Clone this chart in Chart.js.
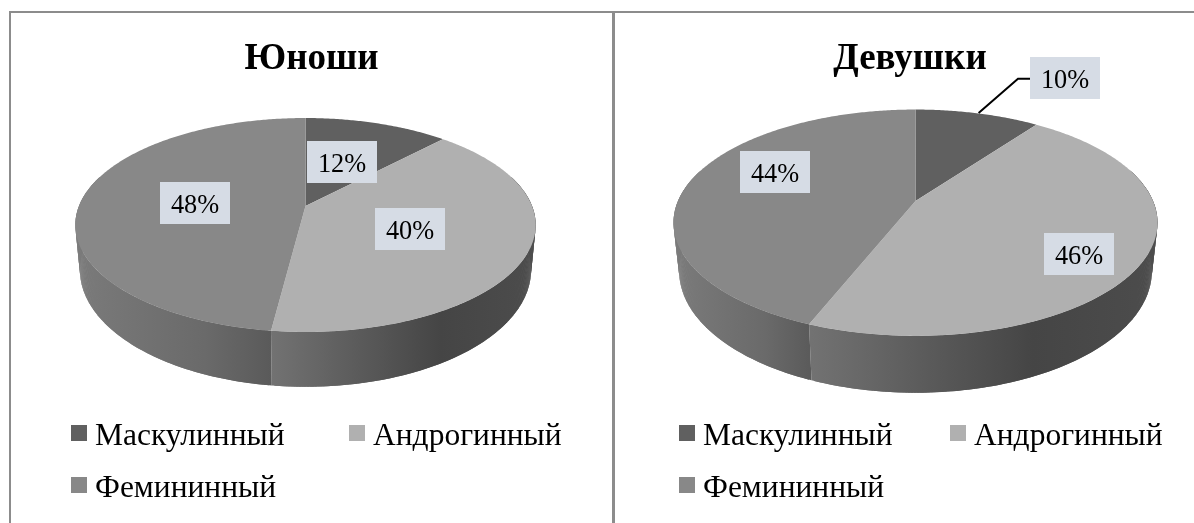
<!DOCTYPE html>
<html lang="ru">
<head>
<meta charset="utf-8">
<title>Юноши и девушки</title>
<script src="https://cdn.jsdelivr.net/npm/chart.js@4"></script>
<style>
  html, body { margin: 0; padding: 0; background: #fff; }
  body { position: relative; width: 1194px; height: 523px; overflow: hidden; font-family: "Liberation Serif", serif; }
  canvas { position: absolute; top: 0; }
  #boysChart { left: 0; }
  #girlsChart { left: 626px; }
  .rule { position: absolute; background: #8c8c8c; }
  #ruleTop { left: 9px; top: 11px; width: 1185px; height: 2px; }
  #ruleLeft { left: 9px; top: 11px; width: 2px; height: 512px; }
  #ruleMid { left: 612px; top: 11px; width: 3px; height: 512px; }
  .legend-item { position: absolute; font-size: 31.5px; line-height: 36px; color: #000; white-space: nowrap; }
  .legend-swatch { position: absolute; width: 16px; height: 16px; }
</style>
</head>
<body>
<div class="rule" id="ruleTop"></div>
<div class="rule" id="ruleLeft"></div>
<div class="rule" id="ruleMid"></div>
<canvas id="boysChart" width="623" height="523"></canvas>
<canvas id="girlsChart" width="568" height="523"></canvas>
<div id="legends"></div>
<script>
const categories = ["Маскулинный", "Андрогинный", "Фемининный"];
const boysValues = [12, 40, 48];
const girlsValues = [10, 46, 44];

const sliceColors = ["#606060", "#b0b0b0", "#888888"];
const sideColors = [
  ["#5c5c5c", "#4a4a4a", "#444444"],
  ["#727272", "#454545", "#4c4c4c"],
  ["#7a7a7a", "#6a6a6a", "#5a5a5a"]
];
const LABEL_FONT = '28px "Liberation Serif"';

// perspective of the pie top and bottom rims, calibrated on the reference (canvas px)
const boysPie = { cx: 305.5, cy: 206, rx: 226.5, ry: 103.6, k: 0.1776, lowCy: 249, lowRx: 222, lowRy: 113.3 };
const girlsPie = { cx: 289.5, cy: 201, rx: 237.5, ry: 109, k: 0.192, lowCy: 247.3, lowRx: 232, lowRy: 117.5 };

const boysLabelPos = [[342, 162], [410, 229], [195, 203]];
const girlsLabelPos = [[439, 78], [453, 254], [149, 172]];
const girlsLeader = [[404, 78.7], [392, 78.7], [352.6, 113]];

function project(pie, angle, lower) {
  const u = Math.cos(angle);
  const v = Math.sin(angle);
  const w = 1 - pie.k * v;
  return {
    x: pie.cx + (lower ? pie.lowRx : pie.rx) * u / w,
    y: (lower ? pie.lowCy : pie.cy) + (lower ? pie.lowRy : pie.ry) * v / w
  };
}

function arcPoints(pie, start, end, lower) {
  const pts = [];
  const steps = Math.max(2, Math.ceil((end - start) / 0.01));
  for (let i = 0; i <= steps; i++) {
    pts.push(project(pie, start + (end - start) * i / steps, lower));
  }
  return pts;
}

function drawSide(ctx, pie, el, index) {
  // only the part of the slice that faces the viewer
  const from = Math.max(el.startAngle, -0.3);
  const to = Math.min(el.endAngle, Math.PI + 0.3);
  if (to <= from) return;

  const upper = arcPoints(pie, from, to, false);
  const lower = arcPoints(pie, from, to, true);
  const xs = lower.map(p => p.x);
  const grad = ctx.createLinearGradient(Math.min(...xs), 0, Math.max(...xs), 0);
  grad.addColorStop(0, sideColors[index][0]);
  grad.addColorStop(0.65, sideColors[index][1]);
  grad.addColorStop(1, sideColors[index][2]);
  ctx.fillStyle = grad;

  // overlapping quads, so the straight silhouette at the rim widths is filled too
  for (let i = 0; i + 2 < upper.length; i++) {
    ctx.beginPath();
    ctx.moveTo(upper[i].x, upper[i].y);
    ctx.lineTo(upper[i + 2].x, upper[i + 2].y);
    ctx.lineTo(lower[i + 2].x, lower[i + 2].y);
    ctx.lineTo(lower[i].x, lower[i].y);
    ctx.closePath();
    ctx.fill();
  }
}

function drawTop(ctx, pie, el, index) {
  const pts = arcPoints(pie, el.startAngle, el.endAngle, false);
  ctx.beginPath();
  ctx.moveTo(pie.cx, pie.cy);
  pts.forEach(p => ctx.lineTo(p.x, p.y));
  ctx.closePath();
  ctx.fillStyle = sliceColors[index];
  ctx.fill();
}

// Chart.js still computes the arc angles, this only swaps how they are painted
const pie3d = {
  id: "pie3d",
  beforeDatasetsDraw(chart, args, opts) {
    const ctx = chart.ctx;
    const arcs = chart.getDatasetMeta(0).data;
    ctx.save();
    arcs.forEach((el, i) => drawSide(ctx, opts.pie, el, i));
    arcs.forEach((el, i) => drawTop(ctx, opts.pie, el, i));
    ctx.restore();
    return false;
  },
  afterDraw(chart, args, opts) {
    const ctx = chart.ctx;
    const values = chart.data.datasets[0].data;
    ctx.save();
    if (opts.leader) {
      ctx.beginPath();
      opts.leader.forEach((p, i) => i ? ctx.lineTo(p[0], p[1]) : ctx.moveTo(p[0], p[1]));
      ctx.strokeStyle = "#000";
      ctx.lineWidth = 2;
      ctx.stroke();
    }
    ctx.font = LABEL_FONT;
    ctx.textAlign = "center";
    ctx.textBaseline = "middle";
    values.forEach((v, i) => {
      const [x, y] = opts.labels[i];
      ctx.fillStyle = "#d6dce5";
      ctx.fillRect(x - 35, y - 21, 70, 42);
      ctx.fillStyle = "#000";
      // the reference text is a little narrower than the plain font
      ctx.save();
      ctx.translate(x, y + 3);
      ctx.scale(0.94, 1);
      ctx.fillText(v + "%", 0, 0);
      ctx.restore();
    });
    ctx.restore();
  }
};

function makeChart(id, title, values, pie, labels, leader) {
  return new Chart(document.getElementById(id), {
    type: "pie",
    data: {
      labels: categories,
      datasets: [{ data: values, backgroundColor: sliceColors, borderWidth: 0 }]
    },
    options: {
      responsive: false,
      animation: false,
      plugins: {
        legend: { display: false },
        tooltip: { enabled: false },
        title: {
          display: true,
          text: title,
          color: "#000",
          font: { family: "Liberation Serif", size: 37, weight: "bold" },
          padding: { top: 37, bottom: 10 }
        },
        pie3d: { pie, labels, leader }
      }
    },
    plugins: [pie3d]
  });
}

function addLegend(left) {
  const holder = document.getElementById("legends");
  const slots = [[left[0], 425], [left[1], 425], [left[0], 477]];
  categories.forEach((name, i) => {
    const sw = document.createElement("div");
    sw.className = "legend-swatch";
    sw.style.left = slots[i][0] + "px";
    sw.style.top = slots[i][1] + "px";
    sw.style.background = sliceColors[i];
    holder.appendChild(sw);

    const text = document.createElement("div");
    text.className = "legend-item";
    text.style.left = (slots[i][0] + 24) + "px";
    text.style.top = (slots[i][1] - 8) + "px";
    text.textContent = name;
    holder.appendChild(text);
  });
}

makeChart("boysChart", "Юноши", boysValues, boysPie, boysLabelPos, null);
makeChart("girlsChart", "Девушки", girlsValues, girlsPie, girlsLabelPos, girlsLeader);
addLegend([71, 349]);
addLegend([679, 950]);
</script>
</body>
</html>
